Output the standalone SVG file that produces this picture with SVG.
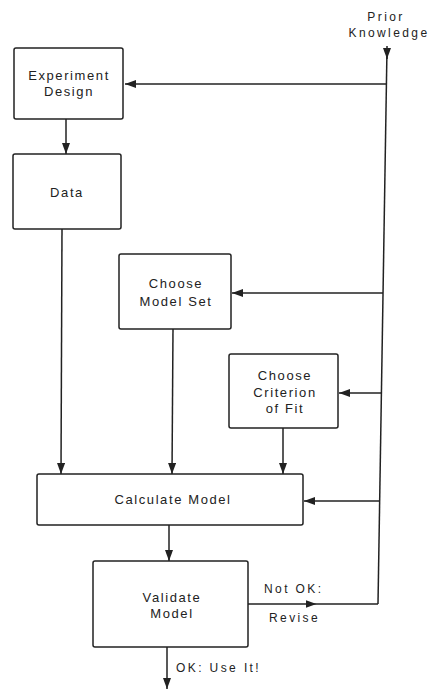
<svg xmlns="http://www.w3.org/2000/svg" width="430" height="689" viewBox="0 0 430 689">
<defs>
<style>
.box{fill:#fff;stroke:#222;stroke-width:1.5}
.t{font-family:"Liberation Sans",Arial,sans-serif;font-size:13px;letter-spacing:1.6px;fill:#222;text-anchor:middle}
.s{font-family:"Liberation Sans",Arial,sans-serif;font-size:12px;letter-spacing:2.4px;fill:#222}
.c{fill:none;stroke:#222;stroke-width:1.5}
</style>
<marker id="ah" viewBox="0 0 11 8" refX="11" refY="4" markerWidth="11" markerHeight="8" markerUnits="userSpaceOnUse" orient="auto">
<path d="M0 0 L11 4 L0 8 Z" fill="#222"/>
</marker>
<marker id="am" viewBox="0 0 11 8" refX="5.5" refY="4" markerWidth="11" markerHeight="8" markerUnits="userSpaceOnUse" orient="auto">
<path d="M0 0 L11 4 L0 8 Z" fill="#222"/>
</marker>
</defs>
<rect width="430" height="689" fill="#fff"/>
<g id="connectors">
<path class="c" d="M387 48 L378 604"/>
<path class="c" d="M387 46 L387 59" marker-end="url(#ah)"/>
<path class="c" d="M386 84 L125 84" marker-end="url(#ah)"/>
<path class="c" d="M66 119 L66 154" marker-end="url(#ah)"/>
<path class="c" d="M62 229 L61 474" marker-end="url(#ah)"/>
<path class="c" d="M383 293 L232 293" marker-end="url(#ah)"/>
<path class="c" d="M173 329 L172 474" marker-end="url(#ah)"/>
<path class="c" d="M381 393 L339 393" marker-end="url(#ah)"/>
<path class="c" d="M283 428 L283 474" marker-end="url(#ah)"/>
<path class="c" d="M380 501 L304 501" marker-end="url(#ah)"/>
<path class="c" d="M169 525 L169 561" marker-end="url(#ah)"/>
<path class="c" d="M248 604 L311 604 L378 604" marker-mid="url(#am)"/>
<path class="c" d="M167 647 L167 689" marker-end="url(#ah)"/>
<text class="s" x="264" y="593">Not OK:</text>
<text class="s" x="269" y="622">Revise</text>
<text class="s" x="176" y="672">OK: Use It!</text>
</g>
<g id="prior">
<text class="s" x="386" y="21" text-anchor="middle" font-size="11px">Prior</text>
<text class="s" x="389" y="37" text-anchor="middle" font-size="11px">Knowledge</text>
</g>
<g id="experiment-design">
<rect class="box" x="14" y="48" width="109" height="71" rx="2"/>
<text class="t" x="69" y="80">Experiment</text>
<text class="t" x="69" y="96">Design</text>
</g>
<g id="data">
<rect class="box" x="13" y="154" width="108" height="75" rx="2"/>
<text class="t" x="67" y="197">Data</text>
</g>
<g id="choose-model-set">
<rect class="box" x="119" y="254" width="112" height="75" rx="2"/>
<text class="t" x="176" y="288">Choose</text>
<text class="t" x="176" y="306">Model Set</text>
</g>
<g id="choose-criterion">
<rect class="box" x="229" y="354" width="109" height="74" rx="2"/>
<text class="t" x="285" y="380">Choose</text>
<text class="t" x="285" y="397">Criterion</text>
<text class="t" x="285" y="413">of Fit</text>
</g>
<g id="calculate-model">
<rect class="box" x="37" y="474" width="266" height="51" rx="2"/>
<text class="t" x="173" y="504">Calculate Model</text>
</g>
<g id="validate-model">
<rect class="box" x="93" y="561" width="155" height="86" rx="2"/>
<text class="t" x="172" y="602">Validate</text>
<text class="t" x="172" y="618">Model</text>
</g>
</svg>
